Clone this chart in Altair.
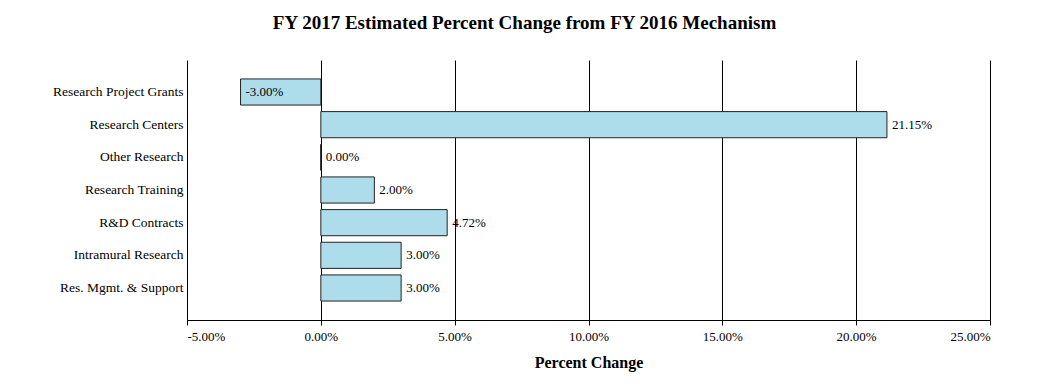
import altair as alt
import pandas as pd

categories = ["Research Project Grants", "Research Centers", "Other Research",
              "Research Training", "R&D Contracts", "Intramural Research",
              "Res. Mgmt. & Support"]
values = [-3.00, 21.15, 0.00, 2.00, 4.72, 3.00, 3.00]
tick_values = [-5, 0, 5, 10, 15, 20, 25]

df = pd.DataFrame({"cat": categories, "val": values})
df["label"] = [f"{v:.2f}%" for v in values]

FONT = "Liberation Serif"

x = alt.X("val:Q", title="Percent Change",
          scale=alt.Scale(domain=[-5, 25], nice=False, zero=False),
          axis=alt.Axis(values=tick_values,
                        labelExpr="(datum.value < 0 ? '-' : '') + format(abs(datum.value), '.2f') + '%'",
                        grid=True, gridColor="black", gridWidth=1, gridOpacity=1,
                        domainColor="black", tickColor="black", tickSize=5,
                        labelFont=FONT, labelFontSize=13, labelColor="black",
                        labelPadding=5,
                        titleFont=FONT, titleFontSize=16, titleFontWeight="bold",
                        titleColor="black", titlePadding=11))
y = alt.Y("cat:N", sort=categories, title=None,
          scale=alt.Scale(paddingInner=0.2, paddingOuter=0.58),
          axis=alt.Axis(ticks=False, domain=False, labelFont=FONT, labelFontSize=13.5,
                        labelColor="black", labelPadding=4))

bars = alt.Chart(df).mark_bar(color="#ADDCEA", stroke="#222222", strokeWidth=1).encode(
    x=x, x2=alt.datum(0), y=y)
text = alt.Chart(df).mark_text(align="left", dx=5, font=FONT, fontSize=13,
                               color="black").encode(
    x="val:Q", y=alt.Y("cat:N", sort=categories), text="label:N")

chart = (bars + text).properties(
    width=803, height=260,
    autosize=alt.AutoSizeParams(type="none"),
    padding={"left": 179, "top": 52, "right": 50, "bottom": 60},
    title=alt.TitleParams("FY 2017 Estimated Percent Change from FY 2016 Mechanism",
                          font=FONT, fontSize=19, fontWeight="bold", color="black",
                          anchor="middle", dx=-64, offset=27),
).configure_view(stroke=None)

chart.save("out.html", embed_options={"renderer": "svg", "actions": False})
